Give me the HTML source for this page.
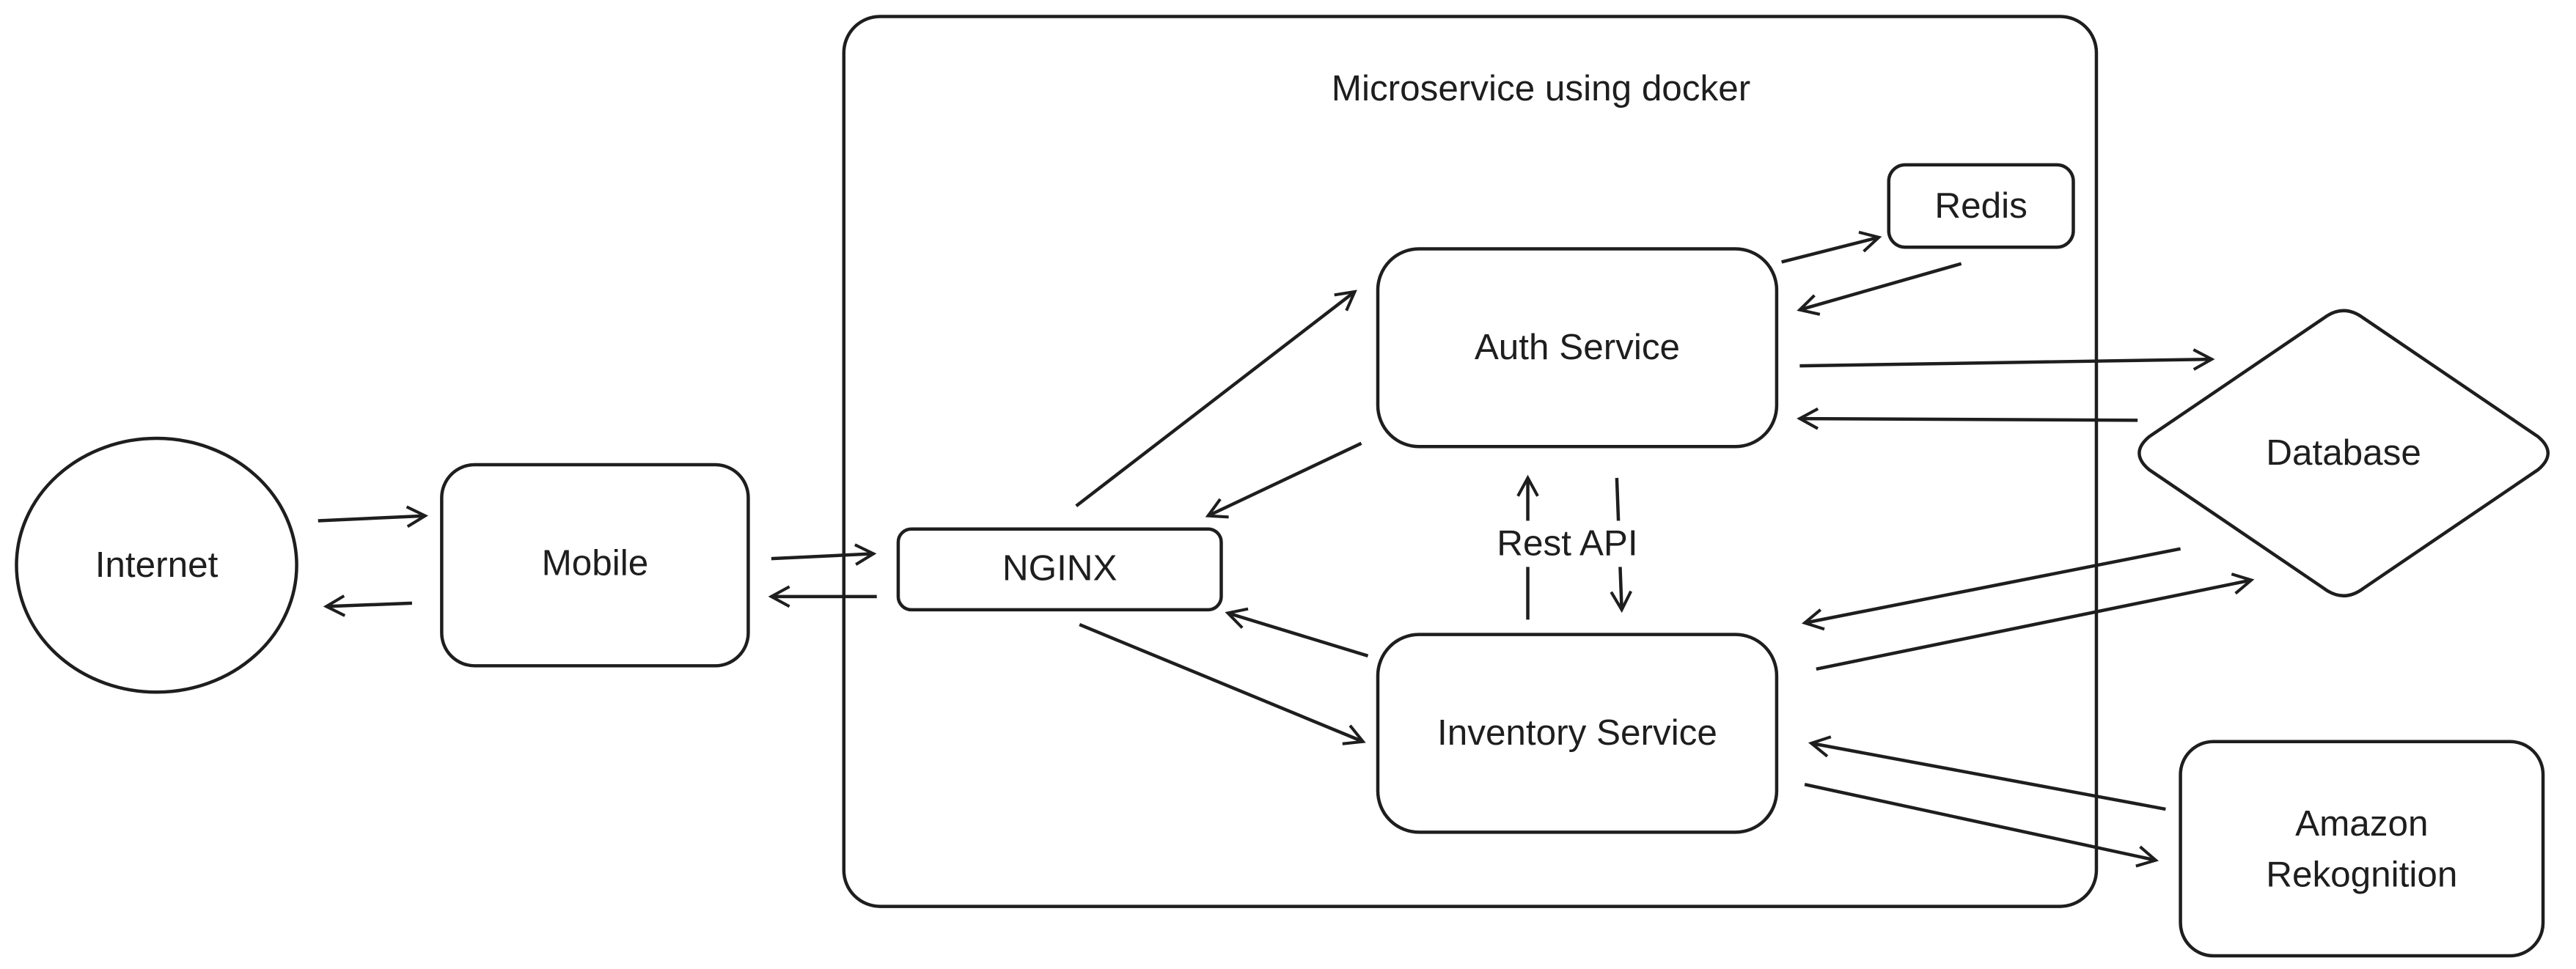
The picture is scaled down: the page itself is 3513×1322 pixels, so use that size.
<!DOCTYPE html>
<html><head><meta charset="utf-8"><style>
html,body{margin:0;padding:0;background:#fff;}
svg{display:block;}
text{font-family:"Liberation Sans",sans-serif;fill:#1e1e1e;}
</style></head><body>
<svg width="3513" height="1322" viewBox="0 0 1563 588" preserveAspectRatio="none" xmlns="http://www.w3.org/2000/svg">
<defs>
<marker id="a" markerWidth="14" markerHeight="14" refX="12" refY="7" orient="auto" markerUnits="userSpaceOnUse">
<path d="M1,1 L12,7 L1,13" fill="none" stroke="#1e1e1e" stroke-width="1.8"/>
</marker>
</defs>
<g fill="none" stroke="#1e1e1e" stroke-width="2">
<ellipse cx="95" cy="343" rx="85" ry="77"/>
<rect x="268" y="282" width="186" height="122" rx="20"/>
<rect x="512" y="10" width="760" height="540" rx="22"/>
<rect x="545" y="321" width="196" height="49" rx="8"/>
<rect x="836" y="151" width="242" height="120" rx="25"/>
<rect x="1146" y="100" width="112" height="50" rx="10"/>
<path d="M1410,193 Q1422,184 1434,193 L1540,265 Q1552,275 1540,285 L1434,357 Q1422,366 1410,357 L1304,285 Q1292,275 1304,265 Z"/>
<rect x="836" y="385" width="242" height="120" rx="25"/>
<rect x="1323" y="450" width="220" height="130" rx="20"/>
</g>
<g stroke="#1e1e1e" stroke-width="2" fill="none" marker-end="url(#a)">
<line x1="193" y1="316" x2="258" y2="313"/>
<line x1="250" y1="366" x2="198" y2="368"/>
<line x1="468" y1="339" x2="530" y2="336"/>
<line x1="532" y1="362" x2="468" y2="362"/>
<line x1="653" y1="307" x2="822" y2="177"/>
<line x1="826" y1="269" x2="733" y2="313"/>
<line x1="1081" y1="159" x2="1140" y2="144"/>
<line x1="1190" y1="160" x2="1092" y2="188"/>
<line x1="1092" y1="222" x2="1342" y2="218"/>
<line x1="1297" y1="255" x2="1092" y2="254"/>
<line x1="927" y1="376" x2="927" y2="290"/>
<line x1="981" y1="290" x2="984" y2="370"/>
<line x1="830" y1="398" x2="745" y2="372"/>
<line x1="655" y1="379" x2="827" y2="450"/>
<line x1="1323" y1="333" x2="1095" y2="378"/>
<line x1="1102" y1="406" x2="1366" y2="352"/>
<line x1="1314" y1="491" x2="1099" y2="451"/>
<line x1="1095" y1="476" x2="1308" y2="522"/>
</g>
<g font-size="22" text-anchor="middle">
<text x="935" y="61">Microservice using docker</text>
<text x="95" y="350">Internet</text>
<text x="361" y="349">Mobile</text>
<text x="643" y="352">NGINX</text>
<text x="957" y="218">Auth Service</text>
<text x="1202" y="132">Redis</text>
<text x="1422" y="282">Database</text>
<text x="957" y="452">Inventory Service</text>
<text x="1433" y="507">Amazon</text>
<text x="1433" y="538">Rekognition</text>
<rect x="895" y="316" width="112" height="28" fill="#fff"/>
<text x="951" y="337">Rest API</text>
</g>
</svg>
</body></html>
